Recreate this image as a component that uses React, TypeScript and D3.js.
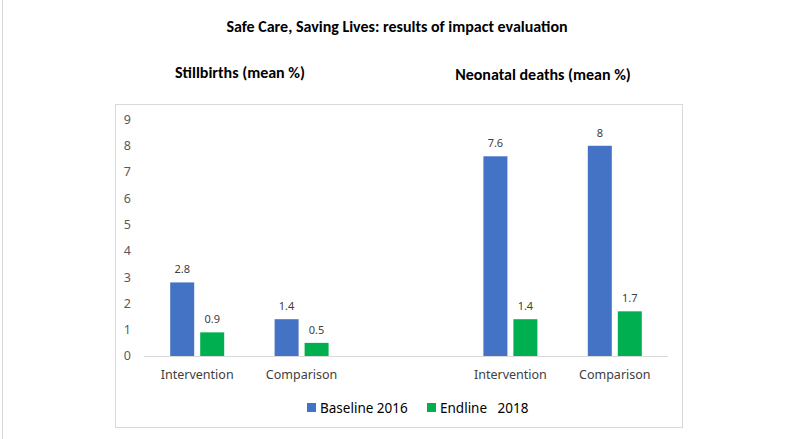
import * as d3 from "d3";

const categories = ["Intervention", "Comparison", "", "Intervention", "Comparison"];
const series = ["Baseline 2016", "Endline   2018"];
const baseline = [2.8, 1.4, null, 7.6, 8];
const endline = [0.9, 0.5, null, 1.4, 1.7];
const yTicks = [0, 1, 2, 3, 4, 5, 6, 7, 8, 9];
const colors = ["#4472C4", "#00B050"];

const width = 794;
const height = 439;
const axisFont = "'Segoe UI', 'Noto Sans', 'Open Sans', sans-serif";
const titleFont = "Carlito, Calibri, 'Liberation Sans Narrow', 'Liberation Sans', sans-serif";

const App = () => {
    const x = d3
        .scaleBand<number>()
        .domain(categories.map((_, i) => i))
        .range([145, 667]);
    const y = d3.scaleLinear().domain([0, 9]).range([356, 119.5]);

    const values = [baseline, endline];

    const inner = (c: number) =>
        d3
            .scaleBand<number>()
            .domain([0, 1])
            .range([c - 27, c + 27])
            .paddingInner(0.2);

    return (
        <svg
            width={width}
            height={height}
            style={{ position: "absolute", left: 0, top: 0, background: "#fff" }}
        >
            <line x1={2.5} x2={2.5} y1={0} y2={height} stroke="#d9d9d9" />
            <rect x={115.5} y={104.5} width={567} height={323} fill="none" stroke="#d9d9d9" />

            <text
                x={397}
                y={32}
                textAnchor="middle"
                fontFamily={titleFont}
                fontWeight="bold"
                fontSize={16}
                fill="#000"
            >
                Safe Care, Saving Lives: results of impact evaluation
            </text>
            <text x={240} y={78} textAnchor="middle" fontFamily={titleFont} fontWeight="bold" fontSize={16} fill="#000">
                Stillbirths (mean %)
            </text>
            <text x={543} y={80} textAnchor="middle" fontFamily={titleFont} fontWeight="bold" fontSize={16} fill="#000">
                Neonatal deaths (mean %)
            </text>

            <g fontFamily={axisFont} fontSize={12.5} fill="#595959">
                {yTicks.map((t) => (
                    <text key={t} x={131} y={y(t)} dy="0.35em" textAnchor="end">
                        {t}
                    </text>
                ))}
            </g>

            <line x1={144} x2={668} y1={356.5} y2={356.5} stroke="#d9d9d9" />

            {categories.map((cat, i) => {
                const c = (x(i) as number) + x.bandwidth() / 2;
                const ib = inner(c);
                return (
                    <g key={`cat-${i}`}>
                        {values.map((vals, s) => {
                            const v = vals[i];
                            if (v == null) return null;
                            const bx = ib(s) as number;
                            return (
                                <g key={`bar-${i}-${s}`}>
                                    <rect
                                        x={bx}
                                        y={y(v)}
                                        width={ib.bandwidth()}
                                        height={y(0) - y(v)}
                                        fill={colors[s]}
                                    />
                                    <text
                                        x={bx + ib.bandwidth() / 2}
                                        y={y(v) - 9}
                                        textAnchor="middle"
                                        fontFamily={axisFont}
                                        fontSize={11}
                                        fill="#404040"
                                    >
                                        {v}
                                    </text>
                                </g>
                            );
                        })}
                        <text
                            x={c}
                            y={379}
                            textAnchor="middle"
                            fontFamily={axisFont}
                            fontSize={12.5}
                            fill="#404040"
                        >
                            {cat}
                        </text>
                    </g>
                );
            })}

            <g fontFamily={axisFont} fontSize={13.5} fill="#000">
                <rect x={307} y={403} width={9} height={9} fill={colors[0]} />
                <text x={320} y={412.5} style={{ whiteSpace: "pre" }}>
                    {series[0]}
                </text>
                <rect x={427} y={403} width={9} height={9} fill={colors[1]} />
                <text x={440} y={412.5} style={{ whiteSpace: "pre" }}>
                    {series[1]}
                </text>
            </g>
        </svg>
    );
};

export default App;
